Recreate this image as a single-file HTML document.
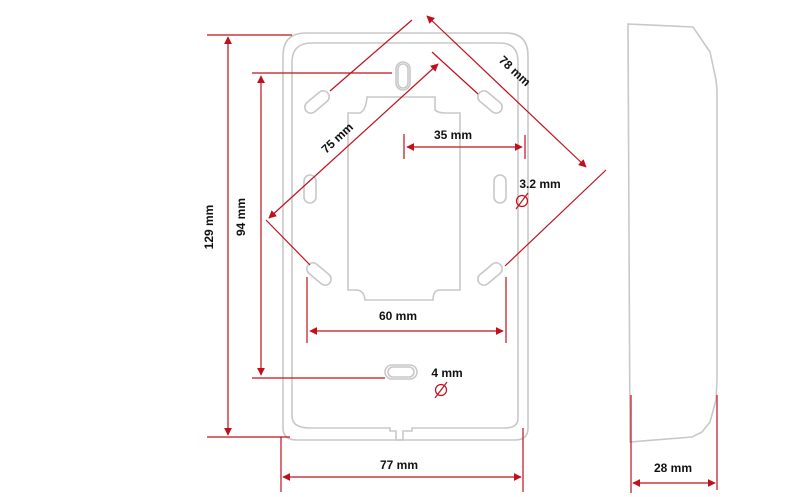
<!DOCTYPE html>
<html><head><style>
body{margin:0;background:#fff;}
svg{display:block;font-family:"Liberation Sans",Arial,sans-serif;font-weight:bold;}
</style></head><body>
<svg width="800" height="497" viewBox="0 0 800 497" xmlns="http://www.w3.org/2000/svg">
<defs>
<marker id="a" viewBox="0 0 10 10" refX="9" refY="5" markerWidth="8" markerHeight="8" orient="auto-start-reverse" markerUnits="userSpaceOnUse"><path d="M0,0L10,5L0,10z" fill="#c0101c"/></marker>
</defs>
<g fill="none" stroke="#c8c8c8" stroke-width="1.6">
<!-- outer plate -->
<path d="M306,33 H506 Q528,33 528,56 V428 Q528,440 515,440 H297 Q283,440 283,428 V56 Q283,33 306,33Z"/>
<!-- inner -->
<path d="M312,43 H500 Q518,43 518,62 V418 Q518,428 505,428 H412 V431 H403 V440 H396 V431 H390 V428 H310 Q292,428 292,416 V62 Q292,43 312,43Z"/>
<!-- cutout -->
<path d="M367,97 H435 V110 Q438,113 446,113 H460 V290 H440 Q433,290 433,300 H365 Q364,290 356,290 H348 V113 H360 Q366,110 367,97Z"/>
<!-- holes -->
<rect x="396" y="62" width="14" height="28" rx="7"/>
<rect x="398" y="64" width="10" height="24" rx="5"/>
<rect x="385" y="365" width="32" height="14" rx="7"/>
<rect x="388" y="367" width="26" height="10" rx="5"/>
<rect x="304" y="175" width="12" height="28" rx="6"/>
<rect x="494" y="175" width="12" height="28" rx="6"/>
<rect x="311" y="88" width="12" height="28" rx="6" transform="rotate(50 317 102)"/>
<rect x="484" y="88" width="12" height="28" rx="6" transform="rotate(-50 490 102)"/>
<rect x="313" y="260" width="12" height="28" rx="6" transform="rotate(-50 319 274)"/>
<rect x="484" y="260" width="12" height="28" rx="6" transform="rotate(50 490 274)"/>
<!-- side profile -->
<path d="M628,24 L693,27 L710,52 L716,80 L717,90 V380 L716,400 L710,422 L702,432 L692,437 L630,442 Z"/>
</g>
<g stroke="#c0101c" stroke-width="1.2" fill="none">
<!-- 129 -->
<line x1="207" y1="35" x2="292" y2="35"/><line x1="207" y1="437" x2="290" y2="437"/>
<line x1="228" y1="37" x2="228" y2="435" marker-start="url(#a)" marker-end="url(#a)"/>
<!-- 94 -->
<line x1="252" y1="73" x2="392" y2="73"/><line x1="252" y1="378" x2="385" y2="378"/>
<line x1="261" y1="76" x2="261" y2="375" marker-start="url(#a)" marker-end="url(#a)"/>
<!-- 77 -->
<line x1="281" y1="437" x2="281" y2="492"/><line x1="523" y1="428" x2="523" y2="492"/>
<line x1="283" y1="477" x2="521" y2="477" marker-start="url(#a)" marker-end="url(#a)"/>
<!-- 60 -->
<line x1="307" y1="277" x2="307" y2="343"/><line x1="506" y1="277" x2="506" y2="343"/>
<line x1="310" y1="331" x2="503" y2="331" marker-start="url(#a)" marker-end="url(#a)"/>
<!-- 35 -->
<line x1="404" y1="134" x2="404" y2="159"/><line x1="525" y1="135" x2="525" y2="159"/>
<line x1="407" y1="147" x2="522" y2="147" marker-start="url(#a)" marker-end="url(#a)"/>
<!-- 75 -->
<line x1="269" y1="218" x2="438" y2="64" marker-start="url(#a)" marker-end="url(#a)"/>
<line x1="266" y1="220" x2="310" y2="265"/>
<line x1="330" y1="91" x2="412" y2="20"/>
<!-- 78 -->
<line x1="427" y1="16" x2="586" y2="167" marker-start="url(#a)" marker-end="url(#a)"/>
<line x1="432" y1="52" x2="478" y2="94"/>
<line x1="505" y1="266" x2="606" y2="170"/>
<!-- 28 -->
<line x1="631" y1="395" x2="631" y2="493"/><line x1="717" y1="395" x2="717" y2="490"/>
<line x1="633" y1="483" x2="715" y2="483" marker-start="url(#a)" marker-end="url(#a)"/>
<!-- diameter symbols -->
<circle cx="522" cy="201" r="5.5"/><line x1="516" y1="209" x2="528" y2="193"/>
<circle cx="441" cy="390" r="5.5"/><line x1="435" y1="398" x2="447" y2="382"/>
</g>
<g font-size="12" fill="#111">
<text x="222" y="236" transform="rotate(-90 213 236)" text-anchor="middle">129 mm</text>
<text x="254" y="226" transform="rotate(-90 245 226)" text-anchor="middle">94 mm</text>
<text x="399" y="469" text-anchor="middle">77 mm</text>
<text x="398" y="320" text-anchor="middle">60 mm</text>
<text x="453" y="139" text-anchor="middle">35 mm</text>
<text x="540" y="188" text-anchor="middle">3.2 mm</text>
<text x="447" y="377" text-anchor="middle">4 mm</text>
<text x="673" y="472" text-anchor="middle">28 mm</text>
<text x="340" y="141" transform="rotate(-43 340 141)" text-anchor="middle">75 mm</text>
<text x="512" y="74" transform="rotate(43 512 74)" text-anchor="middle">78 mm</text>
</g>
</svg>
</body></html>
